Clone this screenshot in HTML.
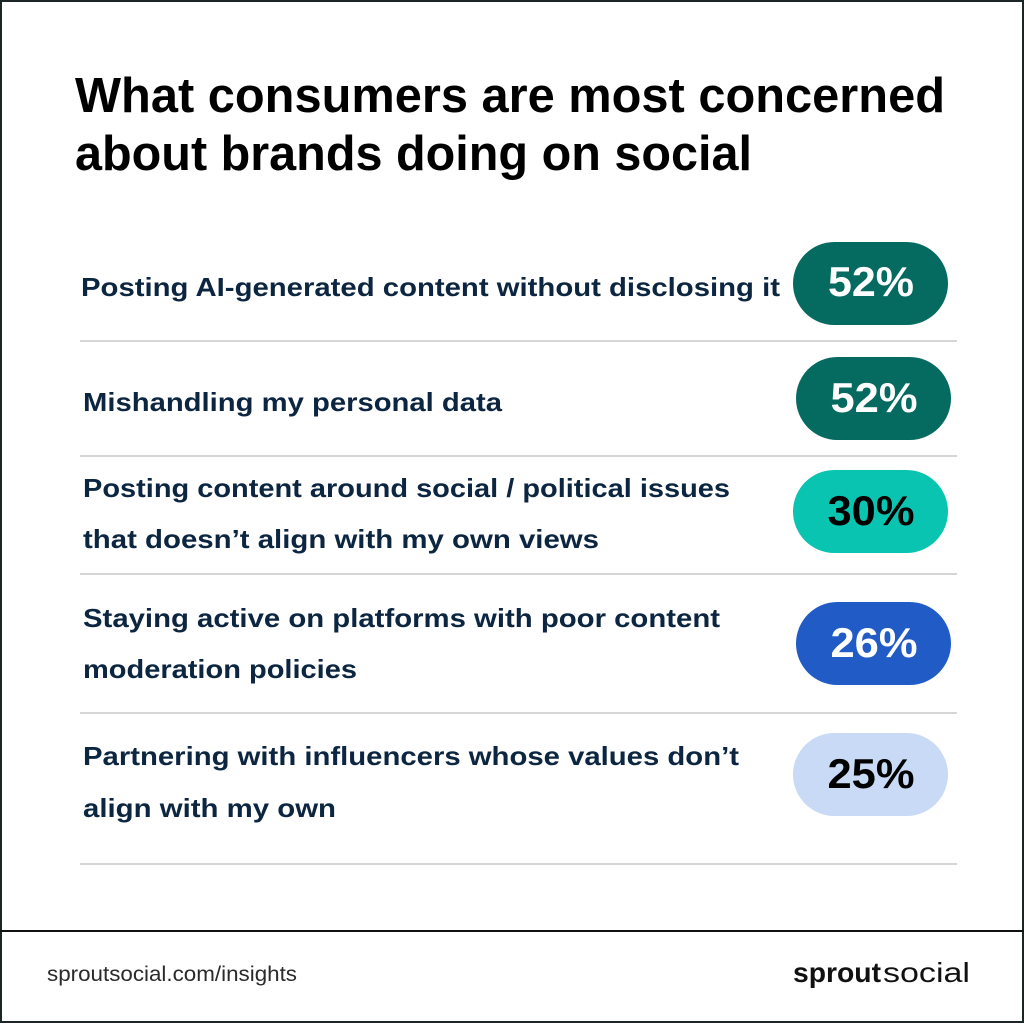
<!DOCTYPE html>
<html>
<head>
<meta charset="utf-8">
<style>
html,body{margin:0;padding:0;background:#fff;}
body{width:1024px;height:1024px;overflow:hidden;}
svg{display:block;}
</style>
</head>
<body>
<svg width="1024" height="1024" viewBox="0 0 1024 1024" xmlns="http://www.w3.org/2000/svg">
  <rect x="0" y="0" width="1024" height="1024" fill="#ffffff"/>
  <!-- outer border -->
  <rect x="1" y="1" width="1022" height="1021" fill="none" stroke="#1c2626" stroke-width="2"/>

  <!-- title -->
  <g font-family="'Liberation Sans', Arial, sans-serif" font-weight="700" font-size="49" fill="#000">
    <text x="75" y="112" textLength="870" lengthAdjust="spacingAndGlyphs">What consumers are most concerned</text>
    <text x="75" y="170" textLength="677" lengthAdjust="spacingAndGlyphs">about brands doing on social</text>
  </g>

  <!-- separators -->
  <g fill="#d6d6d6">
    <rect x="80" y="340" width="877" height="2"/>
    <rect x="80" y="455" width="877" height="2"/>
    <rect x="80" y="573" width="877" height="2"/>
    <rect x="80" y="712" width="877" height="2"/>
    <rect x="80" y="863" width="877" height="2"/>
  </g>

  <!-- row labels -->
  <g font-family="'Liberation Sans', Arial, sans-serif" font-weight="700" font-size="26" fill="#0c2540">
    <text x="81" y="296" textLength="699" lengthAdjust="spacingAndGlyphs">Posting AI-generated content without disclosing it</text>
    <text x="83" y="411" textLength="419" lengthAdjust="spacingAndGlyphs">Mishandling my personal data</text>
    <text x="83" y="497" textLength="647" lengthAdjust="spacingAndGlyphs">Posting content around social / political issues</text>
    <text x="83" y="548" textLength="516" lengthAdjust="spacingAndGlyphs">that doesn’t align with my own views</text>
    <text x="83" y="627" textLength="637" lengthAdjust="spacingAndGlyphs">Staying active on platforms with poor content</text>
    <text x="83" y="678" textLength="274" lengthAdjust="spacingAndGlyphs">moderation policies</text>
    <text x="83" y="765" textLength="656" lengthAdjust="spacingAndGlyphs">Partnering with influencers whose values don’t</text>
    <text x="83" y="817" textLength="253" lengthAdjust="spacingAndGlyphs">align with my own</text>
  </g>

  <!-- pills -->
  <rect x="793" y="242" width="155" height="83" rx="41.5" fill="#056a5f"/>
  <rect x="796" y="357" width="155" height="83" rx="41.5" fill="#056a5f"/>
  <rect x="793" y="470" width="155" height="83" rx="41.5" fill="#08c4b1"/>
  <rect x="796" y="602" width="155" height="83" rx="41.5" fill="#205bc6"/>
  <rect x="793" y="733" width="155" height="83" rx="41.5" fill="#c8daf5"/>

  <g font-family="'Liberation Sans', Arial, sans-serif" font-weight="700" font-size="42" text-anchor="middle">
    <text x="871" y="296" fill="#ffffff" textLength="86" lengthAdjust="spacingAndGlyphs">52%</text>
    <text x="874" y="412" fill="#ffffff" textLength="87" lengthAdjust="spacingAndGlyphs">52%</text>
    <text x="871" y="525" fill="#000000" textLength="87" lengthAdjust="spacingAndGlyphs">30%</text>
    <text x="874" y="657" fill="#ffffff" textLength="87" lengthAdjust="spacingAndGlyphs">26%</text>
    <text x="871" y="788" fill="#000000" textLength="87" lengthAdjust="spacingAndGlyphs">25%</text>
  </g>

  <!-- footer -->
  <rect x="0" y="930" width="1024" height="2" fill="#111"/>
  <text x="47" y="981" font-family="'Liberation Sans', Arial, sans-serif" font-size="21" fill="#2a2a2a" textLength="250" lengthAdjust="spacingAndGlyphs">sproutsocial.com/insights</text>
  <text x="793" y="982" font-family="'Liberation Sans', Arial, sans-serif" font-weight="700" font-size="28" fill="#111" textLength="88" lengthAdjust="spacingAndGlyphs">sprout</text>
  <text x="883" y="982" font-family="'Liberation Sans', Arial, sans-serif" font-size="28" fill="#111" textLength="87" lengthAdjust="spacingAndGlyphs">social</text>
</svg>
</body>
</html>
